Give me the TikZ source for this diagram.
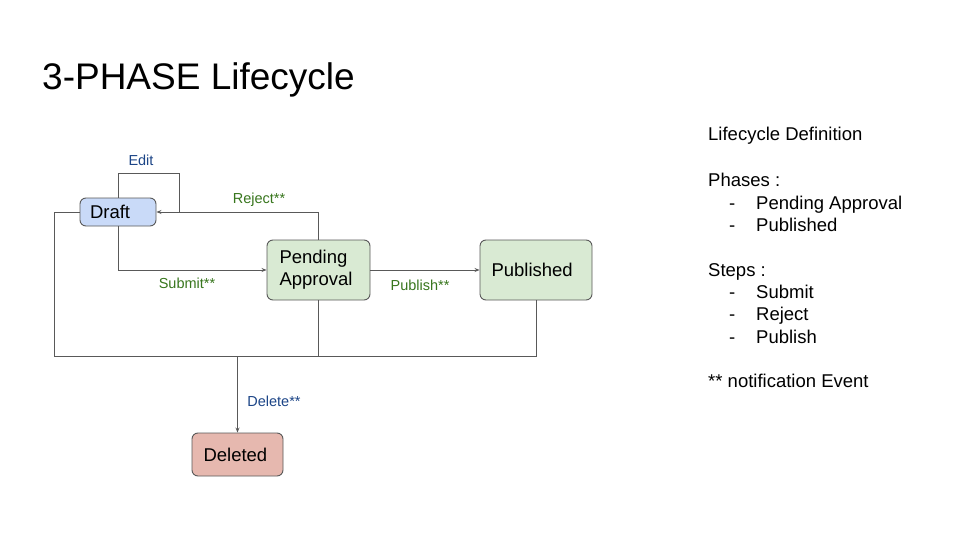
\documentclass[tikz,border=0pt]{standalone}
\usepackage{fontspec}
\setmainfont{Liberation Sans}
\usetikzlibrary{arrows.meta}
\definecolor{linegray}{HTML}{595959}
\definecolor{draftblue}{HTML}{C9DAF8}
\definecolor{phasegreen}{HTML}{D9EAD3}
\definecolor{delred}{HTML}{E6B8AF}
\definecolor{lblblue}{HTML}{1C4587}
\definecolor{lblgreen}{HTML}{38761D}
\tikzset{
  statebox/.style n args={2}{draw=linegray, line width=0.9pt, rounded corners=6pt,
    inner xsep=11.5pt, inner ysep=0pt, text width=#1pt-23pt, minimum height=#2pt,
    align=left, font=\fontsize{18.5}{22}\selectfont},
  conn/.style={draw=linegray, line width=0.9pt},
  arr/.style={conn, -{Stealth[length=5pt,width=4pt]}},
  lblb/.style={font=\fontsize{14.5}{16}\selectfont, text=lblblue},
  lblg/.style={font=\fontsize{14.5}{16}\selectfont, text=lblgreen},
  side/.style={anchor=base west, font=\fontsize{18.5}{21}\selectfont, inner sep=0pt}
}
\begin{document}
\begin{tikzpicture}[x=1pt,y=-1pt]
\useasboundingbox[fill=white] (0,0) rectangle (960,540);

\node[anchor=base west, inner sep=0pt, font=\fontsize{37}{40}\selectfont] (title) at (42,90) {3-PHASE Lifecycle};

\node[statebox={76}{28}, fill=draftblue, inner xsep=10pt, text width=56pt, text height=13.5pt, text depth=0pt] (draft) at (118,212) {Draft};
\node[statebox={103}{60}, fill=phasegreen, inner xsep=12.5pt, text width=78pt] (pending) at (318.5,270) {Pending\\Approval};
\node[statebox={112}{60}, fill=phasegreen, text height=13.5pt, text depth=0pt] (published) at (536,270) {Published};
\node[statebox={91}{43}, fill=delred, text height=13.5pt, text depth=0pt] (deleted) at (237.5,454.5) {Deleted};

\coordinate (edittop) at (179,173);
\coordinate (editjoin) at (179,212);
\coordinate (dleft) at (54,212);
\coordinate (dbotl) at (54,356);
\coordinate (dbotr) at (536,356);
\coordinate (pjoin) at (318.5,356);
\coordinate (deljoin) at (237.5,356);

% Edit loop
\draw[conn] (draft.north) |- (edittop) -- (editjoin);
% Reject
\draw[arr] (pending.north) |- (draft.east);
% Submit
\draw[arr] (draft.south) |- (pending.west);
% Publish
\draw[arr] (pending.east) -- (published.west);
% Delete
\draw[conn] (draft.west) -- (dleft) -- (dbotl) -- (dbotr) -- (published.south);
\draw[conn] (pending.south) -- (pjoin);
\draw[arr] (deljoin) -- (deleted.north);

\node[lblb] (ledit) at (141,160) {Edit};
\node[lblg] (lreject) at (259,200) {Reject**};
\node[lblg] (lsubmit) at (187,283) {Submit**};
\node[lblg] (lpublish) at (420,285) {Publish**};
\node[lblb] (ldelete) at (274,401) {Delete**};

\node[side] (s1) at (708,141) {Lifecycle Definition};
\node[side] (s2) at (708,186) {Phases :};
\node[side] (s3d) at (729,209) {-};
\node[side] (s3) at (756,209) {Pending Approval};
\node[side] (s4d) at (729,231) {-};
\node[side] (s4) at (756,231) {Published};
\node[side] (s5) at (708,276) {Steps :};
\node[side] (s6d) at (729,298) {-};
\node[side] (s6) at (756,298) {Submit};
\node[side] (s7d) at (729,320) {-};
\node[side] (s7) at (756,320) {Reject};
\node[side] (s8d) at (729,343) {-};
\node[side] (s8) at (756,343) {Publish};
\node[side] (s9) at (708,387) {** notification Event};
\end{tikzpicture}
\end{document}
